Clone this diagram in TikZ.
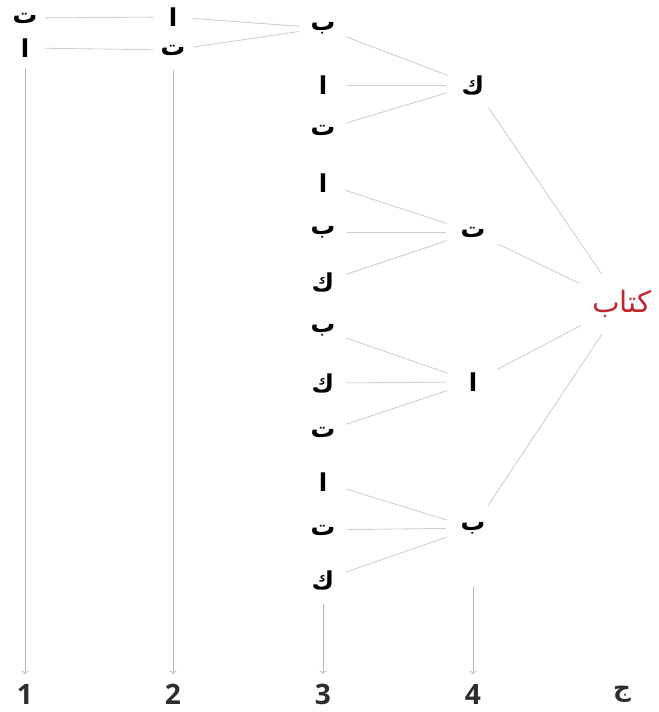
\documentclass[tikz,border=0pt]{standalone}
\usepackage{fontspec}
\usepackage{tikz}
\usetikzlibrary{shapes.geometric, arrows.meta}
\usepackage{xcolor}
\newfontfamily\arabicfont[Script=Arabic]{DejaVu Sans}
\newfontfamily\digitfont{Open Sans}
\TeXXeTstate=1
\definecolor{rootred}{RGB}{192,40,45}
\definecolor{linkgray}{RGB}{205,205,205}
\definecolor{labgray}{RGB}{45,45,45}

\begin{document}
\begin{tikzpicture}[
    x=0.03cm, y=-0.03cm,
    ltr/.style={circle, inner sep=0pt, minimum size=1.2cm, font=\arabicfont\bfseries\fontsize{21}{24}\selectfont},
    ltrmid/.style={ltr, minimum size=1.44cm},
    ltrbig/.style={ltr, minimum size=1.62cm},
    root/.style={ellipse, inner sep=0pt, minimum width=3.3cm, minimum height=1.92cm, text=rootred, font=\arabicfont\fontsize{25}{28}\selectfont},
    lab/.style={inner sep=0pt, text=labgray, font=\digitfont\bfseries\fontsize{24}{26}\selectfont},
    link/.style={draw=linkgray, line width=0.7pt},
    arrow/.style={-{To[length=3pt, width=6pt]}, draw=linkgray!90!black, line width=0.6pt, shorten >=8pt}
]
    \useasboundingbox (0,0) rectangle (658,712);

    % Letters
    \node[root] (kitab) at (622,304) {\beginR كتاب\endR};
    \node[ltrbig] (k) at (473,85) {ك};
    \node[ltrbig] (t) at (473,232) {ت};
    \node[ltrbig] (a) at (473,382) {ا};
    \node[ltrbig] (b) at (473,528) {ب};

    \node[ltrmid] (k-b) at (323,28) {ب};
    \node[ltrmid] (k-a) at (323,85) {ا};
    \node[ltrmid] (k-t) at (323,130) {ت};
    \node[ltrmid] (t-a) at (323,183) {ا};
    \node[ltrmid] (t-b) at (323,232) {ب};
    \node[ltrmid] (t-k) at (323,282) {ك};
    \node[ltrmid] (a-b) at (323,330) {ب};
    \node[ltrmid] (a-k) at (323,383) {ك};
    \node[ltrmid] (a-t) at (323,432) {ت};
    \node[ltrmid] (b-a) at (323,482) {ا};
    \node[ltrmid] (b-t) at (323,530) {ت};
    \node[ltrmid] (b-k) at (323,580) {ك};

    \node[ltr] (k-b-a) at (173,17) {ا};
    \node[ltr] (k-b-t) at (173,50) {ت};
    \node[ltr] (k-b-a-t) at (25,18) {ت};
    \node[ltr] (k-b-t-a) at (25,48) {ا};

    \coordinate (b-end) at (473,587);

    % Labels
    \node[lab] (lab1) at (25,694) {1};
    \node[lab] (lab2) at (173,694) {2};
    \node[lab] (lab3) at (323,694) {3};
    \node[lab] (lab4) at (473,694) {4};
    \node[lab, font=\arabicfont\bfseries\fontsize{21}{24}\selectfont] (labj) at (622,694) {ج};

    % Connections
    \draw[link] (k) -- (kitab);
    \draw[link] (t) -- (kitab);
    \draw[link] (a) -- (kitab);
    \draw[link] (b) -- (kitab);

    \draw[link] (k-b) -- (k);
    \draw[link] (k-a) -- (k);
    \draw[link] (k-t) -- (k);
    \draw[link] (t-a) -- (t);
    \draw[link] (t-b) -- (t);
    \draw[link] (t-k) -- (t);
    \draw[link] (a-b) -- (a);
    \draw[link] (a-k) -- (a);
    \draw[link] (a-t) -- (a);
    \draw[link] (b-a) -- (b);
    \draw[link] (b-t) -- (b);
    \draw[link] (b-k) -- (b);

    \draw[link] (k-b-a) -- (k-b);
    \draw[link] (k-b-t) -- (k-b);
    \draw[link] (k-b-a-t) -- (k-b-a);
    \draw[link] (k-b-t-a) -- (k-b-t);

    % Steps
    \draw[arrow] (k-b-t-a) -- (lab1);
    \draw[arrow] (k-b-t) -- (lab2);
    \draw[arrow] (b-k) -- (lab3);
    \draw[arrow] (b-end) -- (lab4);
\end{tikzpicture}
\end{document}
